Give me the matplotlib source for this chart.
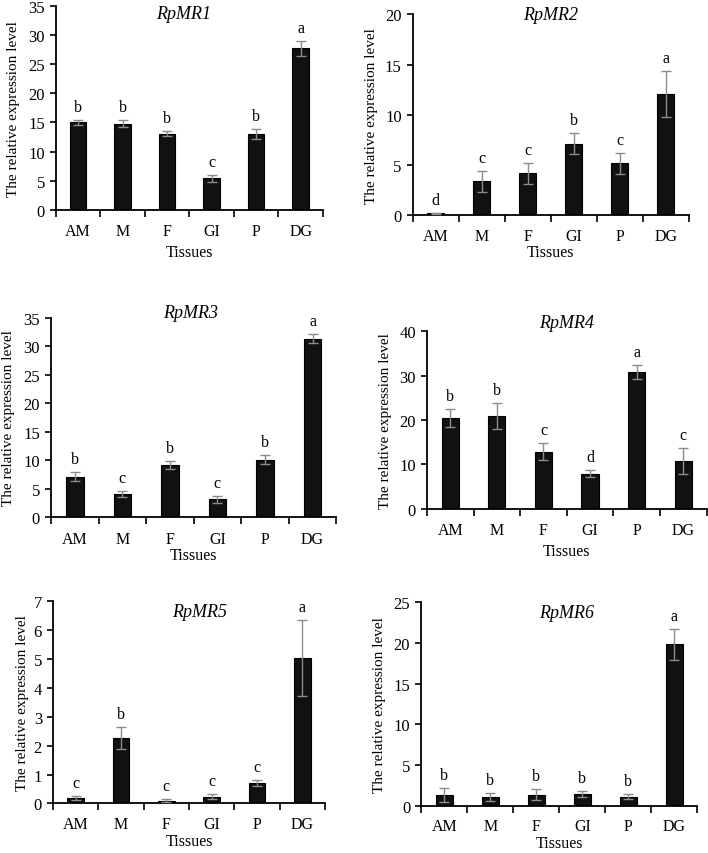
import matplotlib
matplotlib.use('Agg')
import matplotlib.pyplot as plt
import numpy as np

plt.rcParams['font.family'] = ['Liberation Serif', 'DejaVu Serif']

tissues = ['AM', 'M', 'F', 'GI', 'P', 'DG']

genes = ['RpMR1', 'RpMR2', 'RpMR3', 'RpMR4', 'RpMR5', 'RpMR6']

mr1 = [15.0, 14.8, 13.1, 5.4, 13.0, 27.7]
mr1_err = [0.45, 0.6, 0.4, 0.6, 0.8, 1.3]
mr1_sig = ['b', 'b', 'b', 'c', 'b', 'a']

mr2 = [0.2, 3.35, 4.15, 7.1, 5.15, 12.1]
mr2_err = [0.05, 1.05, 1.05, 1.05, 1.05, 2.3]
mr2_sig = ['d', 'c', 'c', 'b', 'c', 'a']

mr3 = [7.15, 4.15, 9.2, 3.15, 10.1, 31.3]
mr3_err = [0.8, 0.55, 0.7, 0.55, 0.8, 0.8]
mr3_sig = ['b', 'c', 'b', 'c', 'b', 'a']

mr4 = [20.4, 20.9, 12.9, 7.95, 30.8, 10.8]
mr4_err = [2.0, 3.0, 1.9, 0.8, 1.6, 2.9]
mr4_sig = ['b', 'b', 'c', 'd', 'a', 'c']

mr5 = [0.18, 2.25, 0.1, 0.23, 0.7, 5.03]
mr5_err = [0.07, 0.38, 0.05, 0.09, 0.1, 1.3]
mr5_sig = ['c', 'b', 'c', 'c', 'c', 'a']

mr6 = [1.3, 1.12, 1.38, 1.5, 1.12, 19.8]
mr6_err = [0.85, 0.45, 0.7, 0.35, 0.3, 1.9]
mr6_sig = ['b', 'b', 'b', 'b', 'b', 'a']

values = [mr1, mr2, mr3, mr4, mr5, mr6]
errors = [mr1_err, mr2_err, mr3_err, mr4_err, mr5_err, mr6_err]
letters = [mr1_sig, mr2_sig, mr3_sig, mr4_sig, mr5_sig, mr6_sig]
ymax = [35, 20, 35, 40, 7, 25]
ystep = [5, 5, 5, 10, 1, 5]

# axes boxes (left, bottom, width, height) in figure fractions
boxes = [
    [0.079, 0.753, 0.377, 0.239],
    [0.583, 0.747, 0.390, 0.235],
    [0.072, 0.393, 0.403, 0.234],
    [0.603, 0.403, 0.395, 0.208],
    [0.075, 0.058, 0.384, 0.237],
    [0.595, 0.055, 0.390, 0.239],
]
title_pos = [(0.48, 0.96), (0.5, 1.0), (0.49, 1.025), (0.5, 1.05), (0.54, 0.946), (0.525, 0.95)]
xlab_pad = [3.5, 0.0, 0.5, 3.5, 1.0, 0.5]
ylab_pad = [6, 5, 6, 5, 3, 5]
tick_pad = [9.5, 9.5, 9.5, 9.5, 9.0, 8.5]

fig = plt.figure(figsize=(7.08, 8.54), dpi=100)

x = np.arange(len(tissues))
for i in range(6):
    ax = fig.add_axes(boxes[i])
    ax.bar(x, values[i], width=0.37, color='#111111', edgecolor='black', linewidth=0.8, zorder=2)
    ax.errorbar(x, values[i], yerr=errors[i], fmt='none', ecolor='#8c8c8c',
                elinewidth=1.0, capsize=3.5, capthick=1.0, zorder=3)
    for xi, v, e, s in zip(x, values[i], errors[i], letters[i]):
        ax.annotate(s, (xi, v + e), xytext=(0, 6.5), textcoords='offset points',
                    ha='center', va='baseline', fontsize=11.5)
    ax.set_xlim(-0.5, 5.5)
    ax.set_ylim(0, ymax[i])
    ax.set_yticks(np.arange(0, ymax[i] + 0.01, ystep[i]))
    ax.set_xticks(np.arange(-0.5, 6, 1.0))
    ax.set_xticklabels([])
    ax.set_xticks(x, minor=True)
    ax.set_xticklabels(tissues, minor=True, fontsize=11.5)
    ax.tick_params(axis='x', which='major', direction='out', length=5, width=1.2)
    ax.tick_params(axis='x', which='minor', length=0, pad=tick_pad[i])
    ax.tick_params(axis='y', direction='out', length=4, width=1.2, labelsize=12, pad=4)
    ax.spines['top'].set_visible(False)
    ax.spines['right'].set_visible(False)
    ax.spines['left'].set_linewidth(1.3)
    ax.spines['bottom'].set_linewidth(1.3)
    ax.set_xlabel('Tissues', fontsize=11.5, labelpad=xlab_pad[i])
    ax.set_ylabel('The relative expression level', fontsize=11, labelpad=ylab_pad[i])
    ax.text(title_pos[i][0], title_pos[i][1], genes[i], transform=ax.transAxes,
            ha='center', va='center', fontsize=13, style='italic')

fig.savefig('out.png', dpi=100)
